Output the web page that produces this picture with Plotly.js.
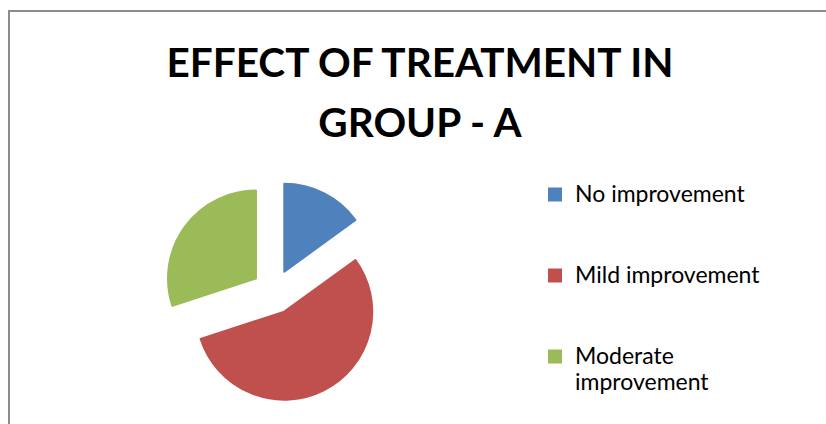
<!DOCTYPE html>
<html>
<head>
<meta charset="utf-8">
<script src="https://cdn.plot.ly/plotly-3.0.1.min.js"></script>
<style>html,body{margin:0;padding:0;background:#fff;}#chart{width:826px;height:424px;}</style>
</head>
<body>
<div id="chart"></div>
<script>
// Data
const categories = ["No improvement", "Mild improvement", "Moderate improvement"];
const patients = [3, 11, 6];
const sliceColors = ["#4F81BD", "#C0504D", "#9BBB59"];
const titleLines = ["EFFECT OF TREATMENT IN", "GROUP - A"];

function sized(lines, px) {
  return lines.map(function (t) { return "<span style='font-size:" + px + "px'>" + t + "</span>"; }).join("<br>");
}

// legend labels: wrap long label and pad entries to spread them vertically
const legendLabels = categories.map(function (c) {
  const lines = (c === "Moderate improvement") ? ["Moderate", "improvement"] : [c, " ", " "];
  return sized(lines, 23);
});

const trace = {
  type: "pie",
  labels: legendLabels,
  values: patients,
  sort: false,
  direction: "clockwise",
  rotation: 0,
  pull: [0.255, 0.255, 0.255],
  textinfo: "none",
  hovertext: categories,
  hoverinfo: "text+value+percent",
  marker: { colors: sliceColors, line: { color: sliceColors, width: 2 } },
  domain: { x: [0.1982, 0.4655], y: [0.0517, 0.5724] }
};

const layout = {
  width: 826,
  height: 424,
  margin: { l: 0, r: 0, t: 0, b: 0 },
  paper_bgcolor: "#ffffff",
  font: { family: "Lato, 'Open Sans', sans-serif", color: "#000000" },
  title: {
    text: sized(titleLines, 40.5),
    font: { family: "Lato, 'Open Sans', sans-serif", size: 46, color: "#000000", weight: "bold" },
    x: 0.5085, xanchor: "center", xref: "paper",
    y: 1 - 77 / 424, yanchor: "top", yref: "paper"
  },
  showlegend: true,
  legend: {
    x: 535 / 826, xanchor: "left",
    y: 1 - 175 / 424, yanchor: "top",
    valign: "top",
    font: { family: "Lato, 'Open Sans', sans-serif", size: 20, color: "#000000" },
    bgcolor: "rgba(0,0,0,0)",
    borderwidth: 0
  },
  shapes: [{
    type: "rect", xref: "paper", yref: "paper",
    x0: 9 / 826, x1: 1.05, y0: -0.05, y1: 1 - 11 / 424,
    line: { color: "#8c8c8c", width: 2 }, fillcolor: "rgba(0,0,0,0)", layer: "below"
  }]
};

Plotly.newPlot("chart", [trace], layout, { displayModeBar: false, staticPlot: true });
</script>
</body>
</html>
